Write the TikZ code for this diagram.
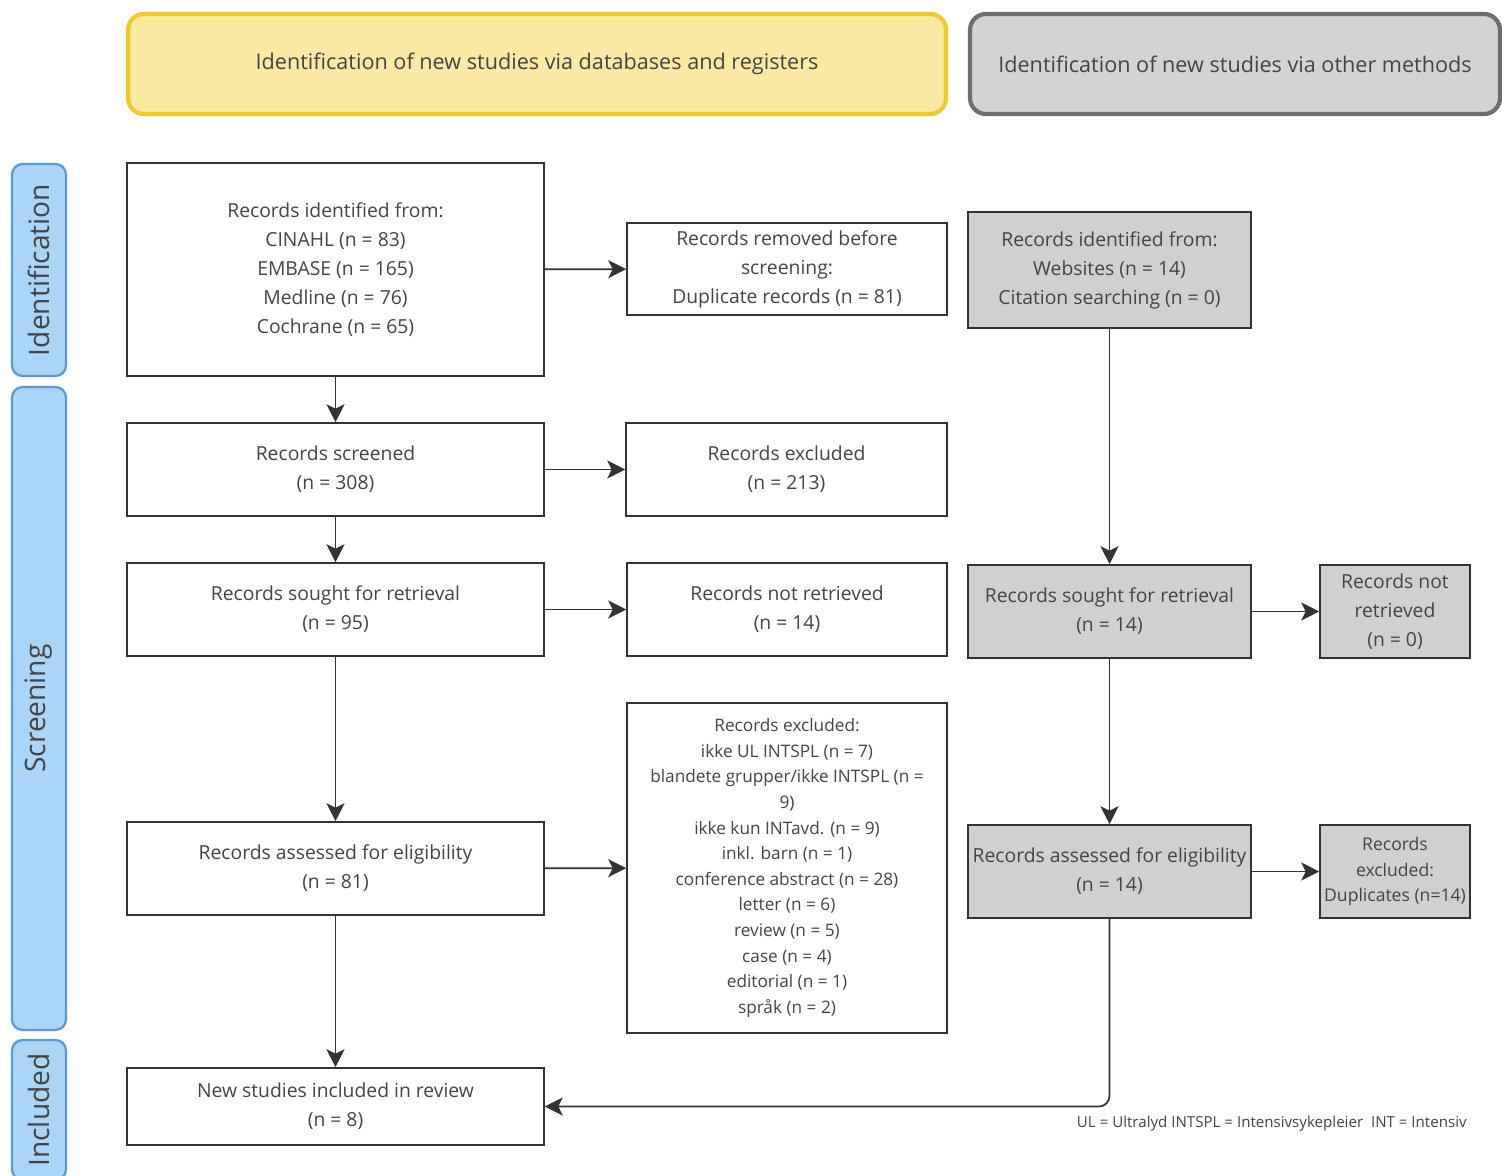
\documentclass[tikz,border=0pt]{standalone}
\usepackage{fontspec}
\setmainfont{Open Sans}
\usetikzlibrary{arrows.meta}

\definecolor{txtgray}{HTML}{444444}
\definecolor{boxline}{HTML}{333333}
\definecolor{boxgray}{HTML}{D0D0D0}
\definecolor{headyellow}{HTML}{FCE9A4}
\definecolor{headyellowline}{HTML}{F2C928}
\definecolor{headgray}{HTML}{D3D3D3}
\definecolor{headgrayline}{HTML}{6E6E6E}
\definecolor{phasefill}{HTML}{AAD5F7}
\definecolor{phaseline}{HTML}{5A9BD6}

\tikzset{
  box/.style={draw=boxline, line width=0.9pt, fill=white, text=txtgray, align=center,
    inner sep=2pt, font=\fontsize{11}{16.5}\selectfont},
  graybox/.style={box, fill=boxgray},
  head/.style={rounded corners=9pt, line width=2.4pt, align=center, text=txtgray,
    minimum height=2cm, font=\fontsize{12.3}{14}\selectfont},
  phase/.style={draw=phaseline, fill=phasefill, rounded corners=6pt, line width=1.3pt,
    rotate=90, minimum height=1.08cm, text=txtgray, font=\fontsize{16}{18}\selectfont},
  flow/.style={draw=boxline, line width=1pt, -{Stealth[length=3.6mm,width=3.6mm,inset=0.9mm]}},
}

\begin{document}
\begin{tikzpicture}[x=0.02cm, y=-0.02cm]
\useasboundingbox[fill=white] (0,0) rectangle (1502,1176);

\node[head, draw=headyellowline, fill=headyellow, minimum width=16.36cm] (headdb) at (537,64)
  {Identification of new studies via databases and registers};
\node[head, draw=headgrayline, fill=headgray, minimum width=10.6cm] (headother) at (1235,64)
  {Identification of new studies via other methods};

\node[phase, minimum width=4.24cm] (phaseid) at (39,270) {Identification};
\node[phase, minimum width=12.86cm] (phasescr) at (39,708.5) {Screening};
\node[phase, minimum width=2.8cm] (phaseinc) at (39,1110) {Included};

\node[box, minimum width=8.34cm, minimum height=4.26cm] (ident) at (335.5,269.5)
  {Records identified from:\\ CINAHL (n = 83)\\ EMBASE (n = 165)\\ Medline (n = 76)\\ Cochrane (n = 65)};
\node[box, minimum width=6.4cm, minimum height=1.84cm] (removed) at (787,269)
  {Records removed before\\ screening:\\ Duplicate records (n = 81)};
\node[box, minimum width=8.34cm, minimum height=1.86cm] (screened) at (335.5,469.5)
  {Records screened\\ (n = 308)};
\node[box, minimum width=6.42cm, minimum height=1.86cm] (excl) at (786.5,469.5)
  {Records excluded\\ (n = 213)};
\node[box, minimum width=8.34cm, minimum height=1.86cm] (sought) at (335.5,609.5)
  {Records sought for retrieval\\ (n = 95)};
\node[box, minimum width=6.4cm, minimum height=1.86cm] (notret) at (787,609.5)
  {Records not retrieved\\ (n = 14)};
\node[box, minimum width=8.34cm, minimum height=1.86cm] (assessed) at (335.5,868.5)
  {Records assessed for eligibility\\ (n = 81)};
\node[box, minimum width=6.4cm, minimum height=6.6cm, font=\fontsize{9.8}{14.6}\selectfont] (reasons) at (787,868)
  {Records excluded:\\ ikke UL INTSPL (n = 7)\\ blandete grupper/ikke INTSPL (n =\\ 9)\\
   ikke kun INTavd. (n = 9)\\ inkl. barn (n = 1)\\ conference abstract (n = 28)\\ letter (n = 6)\\
   review (n = 5)\\ case (n = 4)\\ editorial (n = 1)\\ språk (n = 2)};
\node[box, minimum width=8.34cm, minimum height=1.54cm] (included) at (335.5,1106.5)
  {New studies included in review\\ (n = 8)};

\node[graybox, minimum width=5.66cm, minimum height=2.32cm] (otherid) at (1109.5,270)
  {Records identified from:\\ Websites (n = 14)\\ Citation searching (n = 0)};
\node[graybox, minimum width=5.66cm, minimum height=1.86cm] (othersought) at (1109.5,611.5)
  {Records sought for retrieval\\ (n = 14)};
\node[graybox, minimum width=3cm, minimum height=1.86cm] (othernotret) at (1395,611.5)
  {Records not\\ retrieved\\ (n = 0)};
\node[graybox, minimum width=5.66cm, minimum height=1.86cm] (otherassessed) at (1109.5,871.5)
  {Records assessed for eligibility\\ (n = 14)};
\node[graybox, minimum width=3cm, minimum height=1.86cm, font=\fontsize{10}{14.6}\selectfont] (otherexcl) at (1395,871.5)
  {Records\\ excluded:\\ Duplicates (n=14)};

\node[anchor=east, text=txtgray, inner sep=0pt, font=\fontsize{8.6}{10}\selectfont] (note) at (1467,1124)
  {UL = Ultralyd INTSPL = Intensivsykepleier\ \ INT = Intensiv};

\draw[flow] (ident) -- (removed);
\draw[flow] (ident) -- (screened);
\draw[flow] (screened) -- (excl);
\draw[flow] (screened) -- (sought);
\draw[flow] (sought) -- (notret);
\draw[flow] (sought) -- (assessed);
\draw[flow] (assessed) -- (reasons);
\draw[flow] (assessed) -- (included);

\draw[flow] (otherid) -- (othersought);
\draw[flow] (othersought) -- (othernotret);
\draw[flow] (othersought) -- (otherassessed);
\draw[flow] (otherassessed) -- (otherexcl);
\draw[flow, rounded corners=6pt] (otherassessed.south) |- (included.east);

\end{tikzpicture}
\end{document}
